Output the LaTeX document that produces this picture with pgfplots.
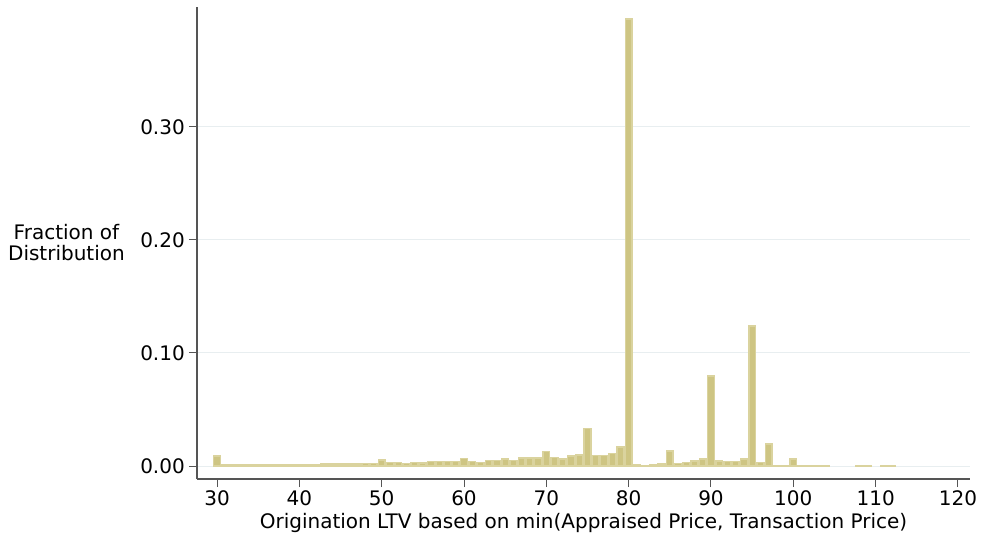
\documentclass[border=0pt]{standalone}
\usepackage{fontspec}
\setmainfont{DejaVu Sans}
\usepackage{pgfplots}
\pgfplotsset{compat=1.18}
\usetikzlibrary{calc}
\definecolor{barfill}{RGB}{206,197,131}
\definecolor{barline}{RGB}{218,211,158}
\definecolor{gridc}{RGB}{232,238,240}
\definecolor{axc}{RGB}{85,85,85}
\begin{document}
\begin{tikzpicture}
\fontsize{20}{21}\selectfont
\begin{axis}[
  scale only axis,
  width=773pt, height=472pt,
  xmin=27.57, xmax=121.46,
  ymin=-0.0115, ymax=0.406,
  axis lines=left,
  axis line style={-, color=axc, line width=1.2pt},
  xtick={30,40,...,120},
  ytick={0,0.1,0.2,0.3},
  tick align=outside,
  major tick length=8pt,
  tick style={color=axc, line width=1pt},
  ymajorgrids,
  grid style={color=gridc, line width=1pt},
  /pgf/number format/assume math mode=true,
  yticklabel style={/pgf/number format/fixed, /pgf/number format/fixed zerofill, /pgf/number format/precision=2, inner sep=4pt},
  xticklabel style={inner sep=3pt},
  scaled y ticks=false,
  ticklabel style={font=\fontsize{20}{21}\selectfont},
  xlabel={Origination LTV based on min(Appraised Price, Transaction Price)},
  xlabel style={font=\fontsize{20}{21}\selectfont, at={(rel axis cs:0.5,0)}, anchor=north, yshift=-34pt, inner sep=0pt},
  ylabel={Fraction of\\Distribution},
  ylabel style={font=\fontsize{20}{21}\selectfont, align=center, rotate=-90, at={(rel axis cs:0,0.5)}, anchor=east, xshift=-72pt, inner sep=0pt},
  ybar, bar width=0.82,
]
\addplot[fill=barfill, draw=barline, line width=1.5pt] coordinates {
(30,0.0089) (31,0.0008) (32,0.0008) (33,0.001) (34,0.001) (35,0.0012)
(36,0.0012) (37,0.0012) (38,0.001) (39,0.001) (40,0.001) (41,0.0012)
(42,0.0012) (43,0.0017) (44,0.0017) (45,0.0017) (46,0.0017) (47,0.0017)
(48,0.0024) (49,0.0024) (50,0.0055) (51,0.0033) (52,0.003) (53,0.0024)
(54,0.003) (55,0.0028) (56,0.004) (57,0.004) (58,0.004) (59,0.004)
(60,0.0068) (61,0.004) (62,0.003) (63,0.005) (64,0.005) (65,0.006)
(66,0.005) (67,0.007) (68,0.007) (69,0.007) (70,0.013) (71,0.0077)
(72,0.006) (73,0.009) (74,0.0097) (75,0.0333) (76,0.0094) (77,0.0094)
(78,0.011) (79,0.0168) (80,0.3956) (81,0.0012) (82,0.0004) (83,0.0009)
(84,0.0018) (85,0.0133) (86,0.0024) (87,0.003) (88,0.0044) (89,0.006)
(90,0.0796) (91,0.0044) (92,0.004) (93,0.004) (94,0.006) (95,0.1239)
(96,0.003) (97,0.0195) (98,0.0005) (99,0.0003) (100,0.006) (101,0.0005)
(102,0.0005) (103,0.0005) (104,0.0005) (108,0.0005) (109,0.0005)
(111,0.0005) (112,0.0005)
};
\end{axis}
\path ($(current axis.south west)+(-197pt,-56pt)$) rectangle ($(current axis.north east)+(11pt,7pt)$);
\end{tikzpicture}
\end{document}
